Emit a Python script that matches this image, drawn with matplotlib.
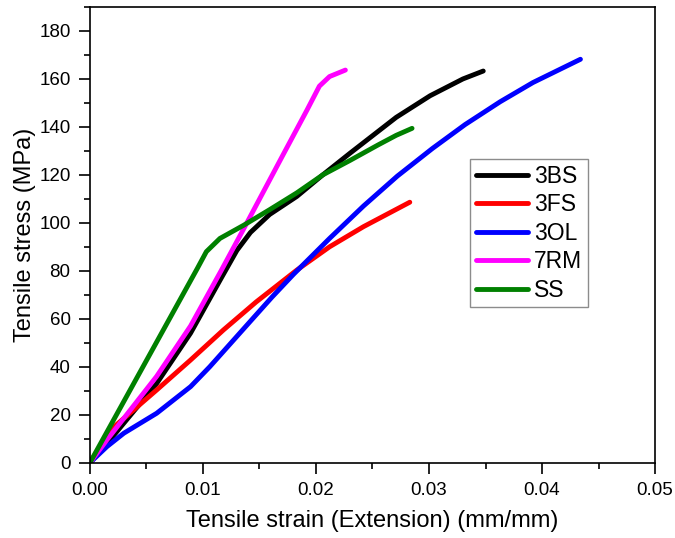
import matplotlib

matplotlib.use("Agg")
import matplotlib.pyplot as plt
from matplotlib.ticker import MultipleLocator, FormatStrFormatter

plt.rcParams.update({
    "font.family": ["Liberation Sans", "DejaVu Sans"],
    "font.size": 13,
})

# strain (mm/mm) / stress (MPa)
strain_3bs = [0.0, 0.0020, 0.0059, 0.0089, 0.0115, 0.0130, 0.0142, 0.0159, 0.0183,
              0.0206, 0.0230, 0.0271, 0.0301, 0.0330, 0.0348]
stress_3bs = [0.0, 10.8, 33.0, 54.0, 76.0, 88.5, 96.0, 103.5, 111.0,
              120.0, 129.0, 144.0, 153.0, 160.0, 163.3]

strain_3fs = [0.0, 0.0018, 0.0059, 0.0089, 0.0118, 0.0147, 0.0183, 0.0212, 0.0242, 0.0283]
stress_3fs = [0.0, 13.6, 30.3, 42.8, 55.3, 67.0, 80.3, 90.0, 98.4, 108.6]

strain_3ol = [0.0, 0.0015, 0.0030, 0.0059, 0.0089, 0.0106, 0.0124, 0.0142, 0.0161, 0.0180,
              0.0212, 0.0242, 0.0272, 0.0303, 0.0332, 0.0363, 0.0392, 0.0434]
stress_3ol = [0.0, 6.7, 12.3, 20.6, 31.7, 40.0, 49.5, 59.0, 69.0, 78.5,
              93.5, 107.0, 119.5, 131.0, 141.0, 150.5, 158.5, 168.2]

strain_7rm = [0.0, 0.0015, 0.0059, 0.0089, 0.0116, 0.0136, 0.0171, 0.0192, 0.0203,
              0.0212, 0.0226]
stress_7rm = [0.0, 9.5, 36.0, 57.0, 80.0, 97.5, 128.5, 147.0, 157.0,
              161.0, 163.7]

strain_ss = [0.0, 0.0095, 0.0103, 0.0115, 0.0136, 0.0159, 0.0183, 0.0206, 0.0230,
             0.0255, 0.0271, 0.0285]
stress_ss = [0.0, 81.0, 88.0, 93.5, 99.0, 105.5, 112.5, 120.0, 126.0,
             132.5, 136.5, 139.4]

series = [
    ("3BS", strain_3bs, stress_3bs, "#000000"),
    ("3FS", strain_3fs, stress_3fs, "#FF0000"),
    ("3OL", strain_3ol, stress_3ol, "#0000FF"),
    ("7RM", strain_7rm, stress_7rm, "#FF00FF"),
    ("SS", strain_ss, stress_ss, "#008000"),
]

fig = plt.figure(figsize=(6.75, 5.38), dpi=100)
ax = fig.add_axes([0.1333, 0.140, 0.8371, 0.847])

for name, x, y, c in series:
    ax.plot(x, y, color=c, lw=3.5, label=name,
            solid_capstyle="round", solid_joinstyle="round")

ax.set_xlim(0, 0.05)
ax.set_ylim(0, 190)
ax.xaxis.set_major_locator(MultipleLocator(0.01))
ax.xaxis.set_minor_locator(MultipleLocator(0.005))
ax.yaxis.set_major_locator(MultipleLocator(20))
ax.yaxis.set_minor_locator(MultipleLocator(10))
ax.xaxis.set_major_formatter(FormatStrFormatter("%.2f"))
ax.tick_params(which="major", direction="out", length=8, width=1.2, labelsize=13.5, pad=6)
ax.tick_params(which="minor", direction="out", length=4.5, width=1.2)
for s in ax.spines.values():
    s.set_linewidth(1.2)

ax.set_xlabel("Tensile strain (Extension) (mm/mm)", fontsize=17, labelpad=8)
ax.set_ylabel("Tensile stress (MPa)", fontsize=17, labelpad=2)

leg = ax.legend(loc="upper left", bbox_to_anchor=(0.696, 0.7045),
                bbox_transform=fig.transFigure, fontsize=16.5, frameon=True,
                fancybox=False, edgecolor="#707070", handlelength=2.3,
                handletextpad=0.25, labelspacing=0.24, borderpad=0.25,
                borderaxespad=0)
leg.get_frame().set_linewidth(1.0)

fig.savefig("out.png", dpi=100, facecolor="white")
